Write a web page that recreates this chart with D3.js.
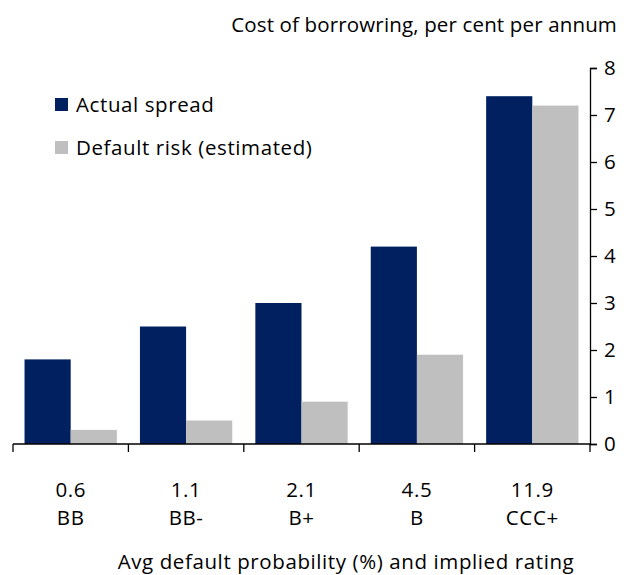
<!DOCTYPE html>
<html>
<head>
<meta charset="utf-8">
<script src="https://cdn.jsdelivr.net/npm/d3@7"></script>
<style>
  body { margin: 0; background: #fff; }
  svg text { font-family: "Open Sans", sans-serif; fill: #000; font-size: 20.5px; letter-spacing: 0.6px; }
</style>
</head>
<body>
<div id="chart"></div>
<script>
// Borrowing cost vs. estimated default risk by rating bucket
const probabilities = ["0.6", "1.1", "2.1", "4.5", "11.9"];
const ratings = ["BB", "BB-", "B+", "B", "CCC+"];
const actualSpread = [1.8, 2.5, 3.0, 4.2, 7.4];
const defaultRisk = [0.3, 0.5, 0.9, 1.9, 7.2];
const yTicks = [0, 1, 2, 3, 4, 5, 6, 7, 8];
const seriesNames = ["Actual spread", "Default risk (estimated)"];
const seriesColors = ["#002060", "#BFBFBF"];

const width = 627, height = 575;
const margin = { left: 13, right: 37, top: 68, bottom: 131 };
const innerW = width - margin.left - margin.right;
const innerH = height - margin.top - margin.bottom;

const svg = d3.select("#chart").append("svg")
  .attr("width", width).attr("height", height);

const g = svg.append("g").attr("transform", `translate(${margin.left},${margin.top})`);

const x = d3.scaleBand().domain(ratings).range([0, innerW]).paddingInner(0).paddingOuter(0);
const inner = d3.scaleBand().domain([0, 1]).range([0, x.bandwidth()]).paddingInner(0).paddingOuter(0.25);
const y = d3.scaleLinear().domain([0, 8]).range([innerH, 0]);

const rows = ratings.map((r, i) => ({ r, vals: [actualSpread[i], defaultRisk[i]] }));

const groups = g.selectAll("g.cat").data(rows).join("g")
  .attr("class", "cat")
  .attr("transform", d => `translate(${x(d.r)},0)`);

groups.selectAll("rect").data(d => d.vals.map((v, k) => ({ v, k }))).join("rect")
  .attr("x", d => inner(d.k))
  .attr("width", inner.bandwidth())
  .attr("y", d => y(d.v))
  .attr("height", d => innerH - y(d.v))
  .attr("fill", d => seriesColors[d.k]);

// right-hand value axis
const yAxis = g.append("g")
  .attr("transform", `translate(${innerW},0)`)
  .call(d3.axisRight(y).tickValues(yTicks).tickSize(7).tickPadding(7).tickFormat(d3.format("d")));
yAxis.attr("font-size", null).attr("font-family", null);
yAxis.select(".domain").attr("stroke", "#000").attr("stroke-width", 1.3);
yAxis.selectAll(".tick line").attr("stroke", "#000").attr("stroke-width", 1.3);

// category axis with boundary ticks
const xAxis = g.append("g").attr("transform", `translate(0,${innerH})`);
xAxis.append("line").attr("x1", 0).attr("x2", innerW).attr("stroke", "#000").attr("stroke-width", 1.3);
const edges = ratings.map(r => x(r)).concat([innerW]);
xAxis.selectAll("line.edge").data(edges).join("line")
  .attr("class", "edge")
  .attr("x1", d => d).attr("x2", d => d)
  .attr("y1", 0).attr("y2", 8)
  .attr("stroke", "#000").attr("stroke-width", 1.3);

xAxis.selectAll("text.prob").data(probabilities).join("text")
  .attr("class", "prob")
  .attr("x", (d, i) => x(ratings[i]) + x.bandwidth() / 2)
  .attr("y", 53)
  .attr("text-anchor", "middle")
  .text(d => d);

xAxis.selectAll("text.rating").data(ratings).join("text")
  .attr("class", "rating")
  .attr("x", d => x(d) + x.bandwidth() / 2)
  .attr("y", 81)
  .attr("text-anchor", "middle")
  .text(d => d);

svg.append("text")
  .attr("x", 346).attr("y", 569)
  .attr("text-anchor", "middle")
  .text("Avg default probability (%) and implied rating");

svg.append("text")
  .attr("x", 617).attr("y", 32)
  .attr("text-anchor", "end")
  .style("letter-spacing", "0.15px")
  .text("Cost of borrowring, per cent per annum");

// legend
const legend = svg.append("g").attr("transform", "translate(55,98)");
seriesNames.forEach((name, i) => {
  const row = legend.append("g").attr("transform", `translate(0,${i * 43})`);
  row.append("rect").attr("width", 13).attr("height", 13).attr("fill", seriesColors[i]);
  row.append("text").attr("x", 21).attr("y", 14).text(name);
});
</script>
</body>
</html>
